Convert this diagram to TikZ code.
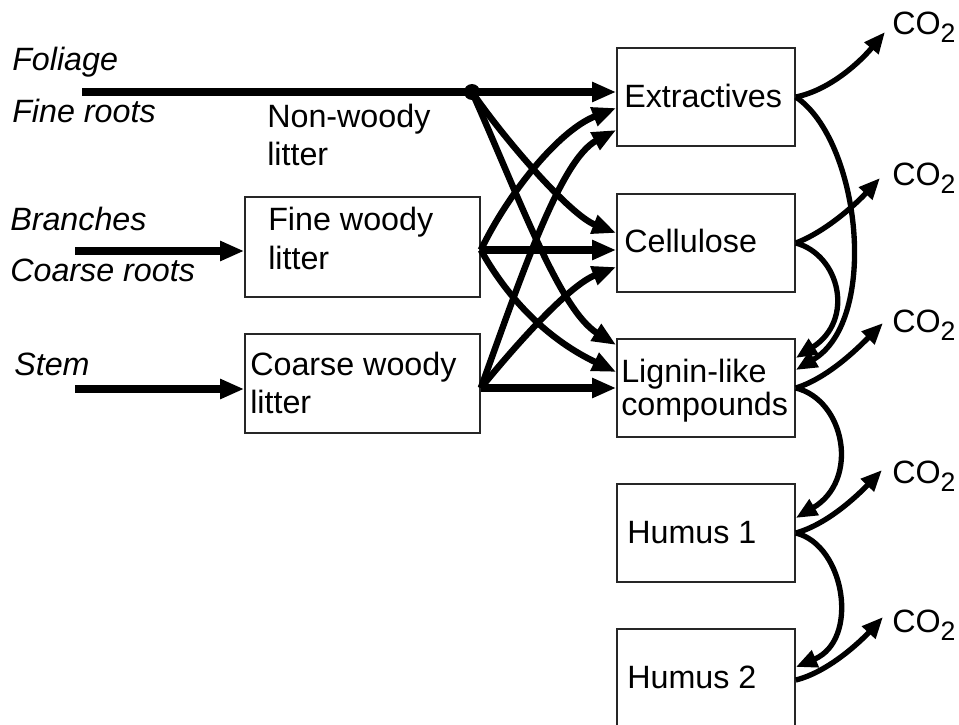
\documentclass[tikz,border=0pt]{standalone}
\usepackage{fontspec}
\setmainfont{Liberation Sans}
\usetikzlibrary{arrows.meta,calc}
\newcommand{\cotwo}{CO\raisebox{-6pt}{\fontsize{20}{20}\selectfont 2}}
\begin{document}
\begin{tikzpicture}[x=0.75pt,y=-0.75pt,
  box/.style={draw=black!85, line width=1.2pt, inner sep=0pt, minimum width=133.5pt, minimum height=73.5pt},
  lbl/.style={anchor=base west, inner sep=0pt, font=\fontsize{24.2}{28}\selectfont},
  ilbl/.style={anchor=base west, inner sep=0pt, font=\fontsize{24.2}{28}\selectfont\itshape},
  thickline/.style={line width=5.4pt},
  flow/.style={line width=4.8pt, -{Triangle[length=18pt,width=14pt]}},
  resp/.style={line width=4pt, -{Triangle[length=16pt,width=13pt]}}]
\useasboundingbox (0,0) rectangle (959,724);
\clip (0,0) rectangle (959,724);

% boxes
\node[box] (ext) at (706,97) {};
\node[box] (cel) at (706,243) {};
\node[box] (lig) at (706,388) {};
\node[box] (h1) at (706,533) {};
\node[box] (h2) at (706,678) {};
\node[box, minimum width=176.25pt, minimum height=75pt] (fw) at (362.5,247) {};
\node[box, minimum width=176.25pt, minimum height=74.25pt] (cw) at (362.5,383.5) {};

% labels
\node[lbl] (t-ext) at (624,108) {Extractives};
\node[lbl] (t-cel) at (624,252) {Cellulose};
\node[lbl] (t-lig1) at (621,382) {Lignin-like};
\node[lbl] (t-lig2) at (621,415) {compounds};
\node[lbl] (t-h1) at (627,543) {Humus 1};
\node[lbl] (t-h2) at (627,688) {Humus 2};
\node[lbl] (t-fw1) at (268,230) {Fine woody};
\node[lbl] (t-fw2) at (268,269) {litter};
\node[lbl] (t-cw1) at (250,375) {Coarse woody};
\node[lbl] (t-cw2) at (250,413) {litter};
\node[lbl] (t-nw1) at (267,127) {Non-woody};
\node[lbl] (t-nw2) at (267,165) {litter};
\node[ilbl] (foliage) at (12,70) {Foliage};
\node[ilbl] (fineroots) at (12,122) {Fine roots};
\node[ilbl] (branches) at (10,230) {Branches};
\node[ilbl] (coarseroots) at (10,281) {Coarse roots};
\node[ilbl] (stem) at (14,375) {Stem};

\node[lbl] (co1) at (892,35) {\cotwo};
\node[lbl] (co2) at (892,185) {\cotwo};
\node[lbl] (co3) at (892,332) {\cotwo};
\node[lbl] (co4) at (892,483) {\cotwo};
\node[lbl] (co5) at (892,632) {\cotwo};

% sources
\coordinate (s1) at (82,92);
\coordinate (s2) at (75,251);
\coordinate (s3) at (75,389);
\node[circle, fill=black, inner sep=0pt, minimum size=12pt] (dot) at (472,92) {};
\coordinate (fwo) at ($(fw.east)+(0,3)$);
\coordinate (cwo) at ($(cw.east)+(0,4.5)$);

% left flows
\draw[thickline] (s1) -- (dot.center);
\draw[flow, line width=5.4pt] (dot.center) -- (ext.west |- dot);
\draw[flow, line width=5.4pt] (s2) -- (fw.west |- s2);
\draw[flow, line width=5.4pt] (s3) -- (cw.west |- s3);

\draw[flow] (dot.center) .. controls (505,140) and (570,215) .. ($(cel.west)+(0,-10)$);
\draw[flow] (dot.center) .. controls (520,200) and (560,310) .. ($(lig.west)+(0,-43)$);
\draw[flow] (fwo) .. controls (510,190) and (560,130) .. ($(ext.west)+(0,11)$);
\draw[flow] (cwo) .. controls (520,280) and (560,160) .. ($(ext.west)+(0,33)$);
\draw[flow, line width=5.4pt] (fwo) -- ($(cel.west)+(0,7)$);
\draw[flow] (fwo) .. controls (520,320) and (570,350) .. ($(lig.west)+(0,-16)$);
\draw[flow] (cwo) .. controls (520,340) and (570,285) .. ($(cel.west)+(0,24)$);
\draw[flow, line width=5.4pt] (cwo) -- (lig.west |- cwo);

% right flows
\draw[resp] (ext.east) .. controls (830,90) and (860,62) .. ($(co1.base west)+(-7,-3)$);
\draw[resp] (cel.east) .. controls (825,232) and (855,205) .. ($(co2.base west)+(-12,-7)$);
\draw[resp] (lig.east) .. controls (828,378) and (858,348) .. ($(co3.base west)+(-9,-9)$);
\draw[resp] (h1.east) .. controls (828,524) and (858,495) .. ($(co4.base west)+(-10,-13)$);
\draw[resp] ($(h2.east)+(0,2)$) .. controls (828,672) and (860,642) .. ($(co5.base west)+(-9,-15)$);

\draw[resp] (ext.east) .. controls (860,140) and (880,320) .. ($(lig.east)+(0,-18)$);
\draw[resp] (cel.east) .. controls (840,255) and (855,320) .. ($(lig.east)+(0,-30)$);
\draw[resp] (lig.east) .. controls (845,400) and (860,480) .. ($(h1.east)+(0,-15)$);
\draw[resp] (h1.east) .. controls (845,545) and (860,640) .. ($(h2.east)+(0,-11)$);
\end{tikzpicture}
\end{document}
